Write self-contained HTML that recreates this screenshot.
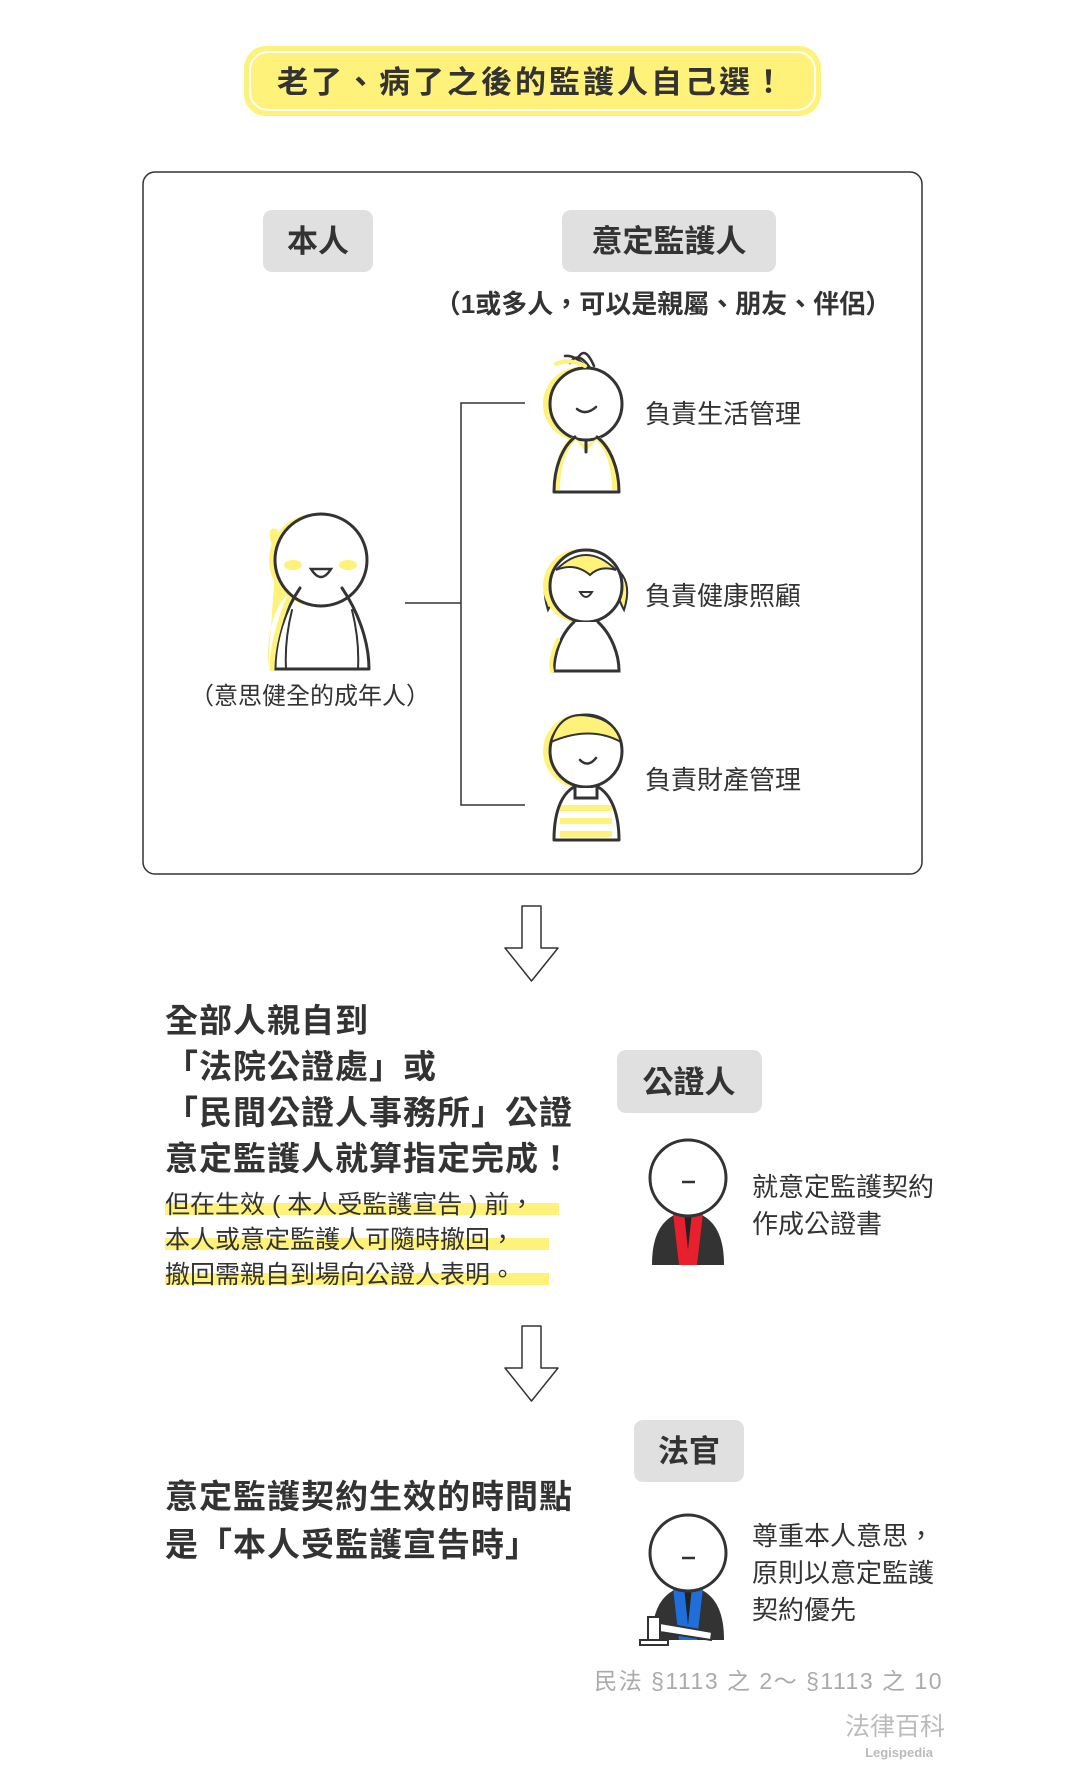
<!DOCTYPE html>
<html><head><meta charset="utf-8"><style>
body{margin:0;background:#fff}
svg{display:block}
text{font-family:"Liberation Sans","Noto Sans CJK TC",sans-serif;fill:#333}
.b{font-weight:bold}
</style></head><body>
<svg width="1065" height="1785" viewBox="0 0 1065 1785" xmlns="http://www.w3.org/2000/svg">
<!-- title -->
<rect x="244" y="46" width="577" height="70" rx="22" fill="#fff27a"/>
<rect x="250" y="52" width="565" height="58" rx="18" fill="none" stroke="#fff" stroke-width="2"/>
<text x="532" y="93" font-size="31" class="b" text-anchor="middle" letter-spacing="3">老了、病了之後的監護人自己選！</text>

<!-- main box -->
<rect x="143" y="172" width="779" height="702" rx="12" fill="none" stroke="#333" stroke-width="1.5"/>
<rect x="263" y="210" width="110" height="62" rx="9" fill="#e0e0e0"/>
<text x="318" y="252" font-size="31" class="b" text-anchor="middle">本人</text>
<rect x="562" y="210" width="214" height="62" rx="9" fill="#e0e0e0"/>
<text x="669" y="252" font-size="31" class="b" text-anchor="middle">意定監護人</text>
<text x="663" y="313" font-size="26" class="b" text-anchor="middle">（1或多人，可以是親屬、朋友、伴侶）</text>

<!-- connectors -->
<path d="M405 603 H461 M525 403 H461 V805 H525" fill="none" stroke="#333" stroke-width="1.5"/>

<!-- left person -->
<g stroke-linecap="round">
<path d="M268 669 C266 620 280 595 300 585 L296 575 C270 560 262 520 278 530 Z" fill="#fff27a"/>
<circle cx="315" cy="560" r="46" fill="#fff27a"/>
<circle cx="321" cy="560" r="46" fill="#fff" stroke="#333" stroke-width="3"/>
<ellipse cx="293" cy="565" rx="9" ry="5" fill="#fff27a"/>
<ellipse cx="348" cy="565" rx="9" ry="5" fill="#fff27a"/>
<path d="M311 569 Q321 585 331 569 Z" fill="#fff" stroke="#333" stroke-width="2.5"/>
<path d="M300 588 C285 610 275 640 275 669 M342 588 C357 610 369 640 369 669 M275 669 H369" fill="none" stroke="#333" stroke-width="3"/>
<path d="M292 610 C287 630 285 650 286 669 M352 610 C357 630 359 650 358 669" fill="none" stroke="#333" stroke-width="2"/>
<path d="M288 600 C278 625 272 650 272 669" fill="none" stroke="#fff27a" stroke-width="5"/>
</g>
<text x="310" y="704" font-size="24" text-anchor="middle">（意思健全的成年人）</text>

<!-- person 1 -->
<g stroke-linecap="round">
<circle cx="580" cy="404" r="37" fill="#fff27a"/>
<circle cx="586" cy="404" r="36" fill="#fff" stroke="#333" stroke-width="3"/>
<path d="M570 363 Q578 350 590 368 M578 358 Q585 345 594 366 M565 356 Q575 355 585 366" fill="none" stroke="#333" stroke-width="2.5"/>
<path d="M556 364 Q570 358 585 366" fill="none" stroke="#fff27a" stroke-width="4"/>
<path d="M577 409 Q586 416 596 407" fill="none" stroke="#333" stroke-width="2.5"/>
<path d="M554 490 C553 465 560 446 572 437 L586 445 L600 437 C612 446 619 465 619 490 Z" fill="#fff27a"/>
<path d="M560 490 C560 466 566 450 576 440 L586 452 L596 440 C606 450 612 466 612 490 Z" fill="#fff"/>
<path d="M575 437 C562 447 554 468 554 492 M597 437 C610 447 619 468 619 492 M554 492 H619 M586 440 V452" fill="none" stroke="#333" stroke-width="3"/>
</g>
<text x="645" y="423" font-size="26">負責生活管理</text>

<!-- person 2 -->
<g stroke-linecap="round">
<path d="M552 572 Q540 585 548 610 Q556 595 556 580 Z" fill="#fff27a" stroke="#333" stroke-width="2"/>
<path d="M620 572 Q632 585 624 610 Q616 595 616 580 Z" fill="#fff27a" stroke="#333" stroke-width="2"/>
<circle cx="580" cy="586" r="37" fill="#fff27a"/>
<circle cx="586" cy="586" r="36" fill="#fff" stroke="#333" stroke-width="3"/>
<path d="M556 570 Q586 540 616 570 Q600 565 590 575 Q575 562 556 570 Z" fill="#fff27a" stroke="#333" stroke-width="2"/>
<path d="M580 592 Q586 602 592 592 Z" fill="#fff" stroke="#333" stroke-width="2"/>
<path d="M574 622 C560 635 554 655 554 671 H619 C619 655 612 635 598 622" fill="#fff" stroke="#333" stroke-width="3"/>
<path d="M558 640 C552 652 550 665 552 671" stroke="#fff27a" stroke-width="4" fill="none"/>
</g>
<text x="645" y="605" font-size="26">負責健康照顧</text>

<!-- person 3 -->
<g stroke-linecap="round">
<circle cx="580" cy="751" r="37" fill="#fff27a"/>
<circle cx="586" cy="751" r="36" fill="#fff" stroke="#333" stroke-width="3"/>
<path d="M551 742 Q560 710 590 716 Q615 720 621 742 Q590 725 551 742 Z" fill="#fff27a" stroke="#333" stroke-width="2"/>
<path d="M580 760 Q588 768 596 758" fill="none" stroke="#333" stroke-width="2.5"/>
<path d="M558 840 V805 Q560 792 572 788 H600 Q612 792 614 805 V840 Z" fill="#fff"/>
<rect x="560" y="805" width="52" height="6" fill="#fff27a"/>
<rect x="560" y="818" width="52" height="6" fill="#fff27a"/>
<rect x="560" y="831" width="52" height="6" fill="#fff27a"/>
<path d="M574 787 C560 795 554 815 554 840 M598 787 C612 795 619 815 619 840 M554 840 H619 M575 787 V798 H597 V787" fill="none" stroke="#333" stroke-width="3"/>
</g>
<text x="645" y="789" font-size="26">負責財產管理</text>

<!-- arrow 1 -->
<path d="M522 906 H541 V948 H558 L531.5 981 L505 948 H522 Z" fill="#fff" stroke="#333" stroke-width="1.5" stroke-linejoin="round"/>

<text font-size="33" class="b" x="165" letter-spacing="1"><tspan x="165" y="1032">全部人親自到</tspan><tspan x="165" y="1078">「法院公證處」或</tspan><tspan x="165" y="1124">「民間公證人事務所」公證</tspan><tspan x="165" y="1170">意定監護人就算指定完成！</tspan></text>
<rect x="165" y="1203" width="394" height="12" fill="#fff27a"/>
<rect x="165" y="1238" width="384" height="12" fill="#fff27a"/>
<rect x="165" y="1273" width="384" height="12" fill="#fff27a"/>
<text font-size="25"><tspan x="165" y="1213">但在生效 ( 本人受監護宣告 ) 前，</tspan><tspan x="165" y="1248">本人或意定監護人可隨時撤回，</tspan><tspan x="165" y="1283">撤回需親自到場向公證人表明。</tspan></text>

<rect x="617" y="1050" width="145" height="63" rx="9" fill="#e0e0e0"/>
<text x="689" y="1093" font-size="31" class="b" text-anchor="middle">公證人</text>
<!-- notary -->
<path d="M652 1265 C652 1230 665 1215 688 1210 C711 1215 724 1230 724 1265 Z" fill="#333"/>
<path d="M673 1213 L703 1213 L697 1265 H679 Z" fill="#e8202e"/>
<path d="M684 1212 L692 1212 L688 1250 Z" fill="#222"/>
<circle cx="688" cy="1178" r="38" fill="#fff" stroke="#333" stroke-width="3"/>
<path d="M682 1182 H695" stroke="#333" stroke-width="2.5"/>
<text font-size="26"><tspan x="752" y="1196">就意定監護契約</tspan><tspan x="752" y="1233">作成公證書</tspan></text>

<!-- arrow 2 -->
<path d="M522 1326 H541 V1368 H558 L531.5 1401 L505 1368 H522 Z" fill="#fff" stroke="#333" stroke-width="1.5" stroke-linejoin="round"/>

<rect x="634" y="1420" width="110" height="62" rx="9" fill="#e0e0e0"/>
<text x="689" y="1462" font-size="31" class="b" text-anchor="middle">法官</text>
<text font-size="33" class="b" letter-spacing="1"><tspan x="165" y="1508">意定監護契約生效的時間點</tspan><tspan x="165" y="1556">是「本人受監護宣告時」</tspan></text>
<!-- judge -->
<path d="M652 1640 C652 1605 665 1590 688 1585 C711 1590 724 1605 724 1640 Z" fill="#333"/>
<path d="M673 1588 L703 1588 L697 1640 H679 Z" fill="#1e6fd9"/>
<path d="M684 1587 L692 1587 L688 1625 Z" fill="#222"/>
<circle cx="688" cy="1553" r="38" fill="#fff" stroke="#333" stroke-width="3"/>
<path d="M682 1558 H695" stroke="#333" stroke-width="2.5"/>
<g stroke="#333" stroke-width="2" fill="#fff">
<rect x="648" y="1617" width="12" height="24"/>
<path d="M660 1623 L712 1632 L711 1640 L660 1632 Z"/>
<rect x="640" y="1640" width="28" height="5"/>
</g>
<text font-size="26"><tspan x="752" y="1545">尊重本人意思，</tspan><tspan x="752" y="1582">原則以意定監護</tspan><tspan x="752" y="1619">契約優先</tspan></text>

<text x="943" y="1689" font-size="23" style="fill:#aaa" text-anchor="end" letter-spacing="1.5">民法 §1113 之 2～ §1113 之 10</text>
<text x="945" y="1735" font-size="25" style="fill:#bbb" text-anchor="end">法律百科</text>
<text x="933" y="1757" font-size="13" class="b" style="fill:#bbb" text-anchor="end">Legispedia</text>
</svg>
</body></html>
